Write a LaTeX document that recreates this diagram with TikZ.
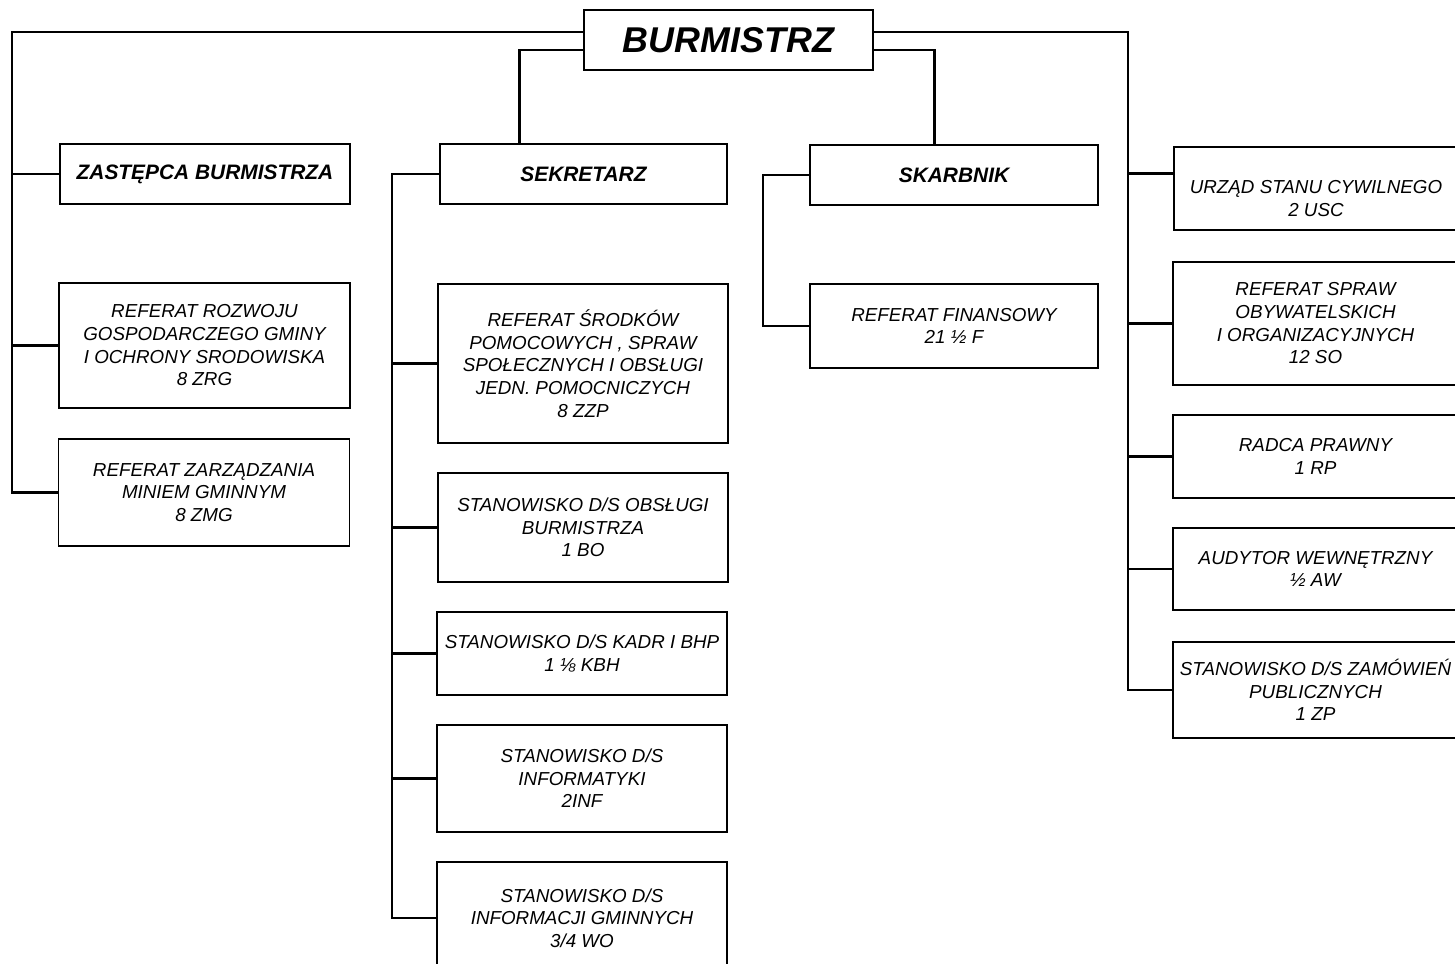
\documentclass[tikz,border=0pt]{standalone}
\usepackage{fontspec}
\setmainfont{Liberation Sans}
\usetikzlibrary{calc}
\begin{document}
\begin{tikzpicture}[x=0.02cm, y=-0.02cm,
  every node/.style = {shape=rectangle, draw, line width=0.8pt, align=center,
    inner sep=1pt, font=\fontsize{10.7}{12.9}\selectfont\itshape},
  sz/.style 2 args = {minimum width=#1*0.02cm, minimum height=#2*0.02cm},
  head/.style = {font=\fontsize{11.9}{14}\selectfont\bfseries\itshape},
  conn/.style = {line width=1.5pt}]
  \useasboundingbox (0,0) rectangle (1455,964);
  \node[sz={289}{60}, font=\fontsize{20.4}{24}\selectfont\bfseries\itshape] (burm) at (728.5,40) {BURMISTRZ};
  \node[sz={290}{60}, head] (zast) at (205,174) {ZASTĘPCA BURMISTRZA};
  \node[sz={291}{125}] (rozw) at (204.5,345.5) {REFERAT ROZWOJU\\GOSPODARCZEGO GMINY\\I OCHRONY SRODOWISKA\\8 ZRG};
  \node[sz={291}{107}] (zarz) at (204,492.5) {REFERAT ZARZĄDZANIA\\MINIEM GMINNYM\\8 ZMG};
  \node[sz={287}{60}, head] (sekr) at (583.5,174) {SEKRETARZ};
  \node[sz={290}{159}] (srod) at (583,363.5) {REFERAT ŚRODKÓW\\POMOCOWYCH , SPRAW\\SPOŁECZNYCH I OBSŁUGI\\JEDN. POMOCNICZYCH\\8 ZZP};
  \node[sz={290}{109}] (obsl) at (583,527.5) {STANOWISKO D/S OBSŁUGI\\BURMISTRZA\\1 BO};
  \node[sz={290}{83}] (kadr) at (582,653.5) {STANOWISKO D/S KADR I BHP\\1 ⅛ KBH};
  \node[sz={290}{107}] (info) at (582,778.5) {STANOWISKO D/S\\INFORMATYKI\\2INF};
  \node[sz={290}{112}] (ginf) at (582,918) {STANOWISKO D/S\\INFORMACJI GMINNYCH\\3/4 WO};
  \node[sz={288}{60}, head] (skarb) at (954,175) {SKARBNIK};
  \node[sz={288}{84}] (fin) at (954,326) {REFERAT FINANSOWY\\21 ½ F};
  \node[sz={284}{83}] (usc) at (1316,188.5) {\rule{0pt}{19pt}URZĄD STANU CYWILNEGO\\2 USC};
  \node[sz={285}{123}] (spraw) at (1315.5,323.5) {REFERAT SPRAW\\OBYWATELSKICH\\I ORGANIZACYJNYCH\\12 SO};
  \node[sz={285}{83}] (radca) at (1315.5,456.5) {RADCA PRAWNY\\1 RP};
  \node[sz={285}{82}] (audyt) at (1315.5,569) {AUDYTOR WEWNĘTRZNY\\½ AW};
  \node[sz={285}{96}] (zamow) at (1315.5,690) {STANOWISKO D/S ZAMÓWIEŃ\\PUBLICZNYCH\\1 ZP};
  \coordinate (lbus) at (12,0);
  \coordinate (sbus) at (392,0);
  \coordinate (kbus) at (763,0);
  \coordinate (rbus) at (1128,0);
  \draw[conn] ($(burm.west)+(0,-8)$) -| (lbus |- zarz.west) -- (zarz.west);
  \draw[conn] (lbus |- zast.west) -- (zast.west);
  \draw[conn] (lbus |- rozw.west) -- (rozw.west);
  \draw[conn] ($(burm.west)+(0,10)$) -| ($(sekr.north west)+(80,0)$);
  \draw[conn] ($(burm.east)+(0,10)$) -| ($(skarb.north west)+(125,0)$);
  \draw[conn] ($(burm.east)+(0,-8)$) -| (rbus |- zamow.west) -- (zamow.west);
  \draw[conn] ($(rbus |- usc.west)+(0,-15)$) -- ($(usc.west)+(0,-15)$);
  \foreach \n in {spraw,radca,audyt}
    \draw[conn] (rbus |- \n.west) -- (\n.west);
  \draw[conn] (sekr.west) -| (sbus |- ginf.west) -- (ginf.west);
  \foreach \n in {srod,obsl,kadr,info}
    \draw[conn] (sbus |- \n.west) -- (\n.west);
  \draw[conn] (skarb.west) -| (kbus |- fin.west) -- (fin.west);
\end{tikzpicture}
\end{document}
